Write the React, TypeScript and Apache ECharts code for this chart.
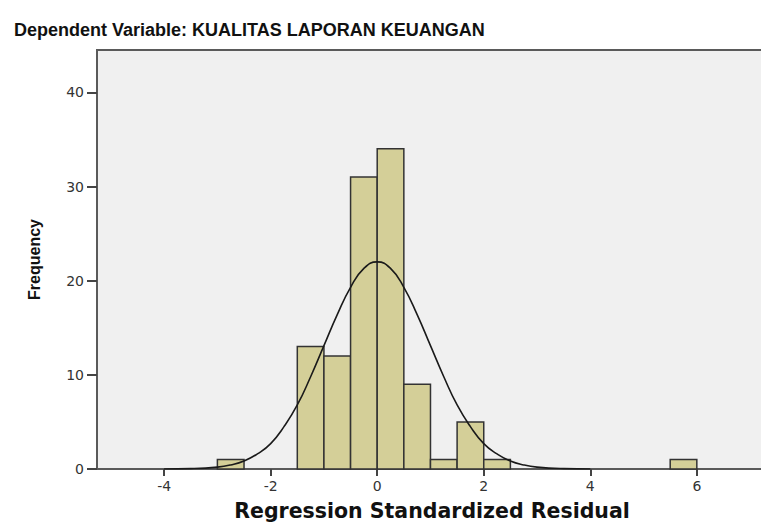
import React, { useEffect, useRef } from "react";
import * as echarts from "echarts";

// Histogram bins: [start, end]
const binStarts = [-3, -1.5, -1, -0.5, 0, 0.5, 1, 1.5, 2, 5.5];
const binEnds = [-2.5, -1, -0.5, 0, 0.5, 1, 1.5, 2, 2.5, 6];
const frequencies = [1, 13, 12, 31, 34, 9, 1, 5, 1, 1];

// Normal curve
const curveX = [-4, -3.5, -3, -2.75, -2.5, -2.25, -2, -1.75, -1.5, -1.25, -1, -0.75, -0.5, -0.25, 0, 0.25, 0.5, 0.75, 1, 1.25, 1.5, 1.75, 2, 2.25, 2.5, 2.75, 3, 3.5, 4];
const curveY = [0.0, 0.04, 0.2, 0.43, 0.85, 1.6, 2.7, 4.5, 6.8, 9.8, 13.1, 16.4, 19.3, 21.3, 22, 21.3, 19.3, 16.4, 13.1, 9.8, 6.8, 4.5, 2.7, 1.6, 0.85, 0.43, 0.2, 0.04, 0.0];

const xTickLabels = [-4, -2, 0, 2, 4, 6];
const yTickLabels = [0, 10, 20, 30, 40];

const titleText = "Dependent Variable: KUALITAS LAPORAN KEUANGAN";
const xName = "Regression Standardized Residual";
const yName = "Frequency";

export default function App() {
  const ref = useRef<HTMLDivElement>(null);
  useEffect(() => {
    if (!ref.current) return;
    const chart = echarts.init(ref.current, null, { renderer: "svg" });
    const histData = frequencies.map((f, i) => [binStarts[i], binEnds[i], f]);
    const curveData = curveX.map((x, i) => [x, curveY[i]]);
    chart.setOption({
      animation: false,
      backgroundColor: "#ffffff",
      title: {
        text: titleText,
        left: 9,
        top: 16,
        textStyle: {
          fontFamily: "Liberation Sans",
          fontWeight: "bold",
          fontSize: 18,
          color: "#111",
        },
      },
      grid: {
        left: 97,
        top: 50,
        right: -20,
        bottom: 53,
        show: true,
        containLabel: false,
        outerBoundsMode: "none",
        backgroundColor: "#F0F0F0",
        borderColor: "#5a5a5a",
        borderWidth: 2,
      },
      xAxis: {
        type: "value",
        min: -5.26,
        max: 7.58,
        name: xName,
        nameLocation: "middle",
        nameGap: 32,
        nameTextStyle: {
          fontFamily: "DejaVu Sans",
          fontWeight: "bold",
          fontSize: 20.5,
          lineHeight: 20,
          color: "#111",
          padding: [0, 14, 0, 0],
        },
        splitLine: { show: false },
        axisLine: { show: false, onZero: false },
        axisTick: {
          show: true,
          length: 7,
          lineStyle: { color: "#444", width: 2 },
          customValues: xTickLabels,
        },
        axisLabel: {
          customValues: xTickLabels,
          fontFamily: "DejaVu Sans",
          fontSize: 14,
          color: "#333",
          margin: 10,
        },
      },
      yAxis: {
        type: "value",
        min: 0,
        max: 44.5,
        interval: 10,
        name: yName,
        nameLocation: "middle",
        nameGap: 55,
        nameRotate: 90,
        nameTextStyle: {
          fontFamily: "Liberation Sans",
          fontWeight: "bold",
          fontSize: 16,
          color: "#111",
        },
        splitLine: { show: false },
        axisLine: { show: false, onZero: false },
        axisTick: {
          show: true,
          length: 10,
          lineStyle: { color: "#444", width: 2 },
        },
        axisLabel: {
          showMaxLabel: false,
          fontFamily: "DejaVu Sans",
          fontSize: 14,
          color: "#333",
          margin: 13,
        },
      },
      series: [
        {
          type: "custom",
          data: histData,
          encode: { x: [0, 1], y: 2 },
          renderItem: (params: any, api: any) => {
            const p0 = api.coord([api.value(0), api.value(2)]);
            const p1 = api.coord([api.value(1), 0]);
            return {
              type: "rect",
              shape: { x: p0[0], y: p0[1], width: p1[0] - p0[0], height: p1[1] - p0[1] },
              style: { fill: "#D4CF98", stroke: "#333333", lineWidth: 1.5 },
            };
          },
          z: 2,
        },
        {
          type: "line",
          data: curveData,
          smooth: true,
          showSymbol: false,
          lineStyle: { color: "#1a1a1a", width: 1.6 },
          z: 3,
        },
      ],
    });
    return () => chart.dispose();
  }, []);
  return (
    <div
      ref={ref}
      style={{ position: "fixed", left: 0, top: 0, width: 761, height: 522 }}
    />
  );
}
